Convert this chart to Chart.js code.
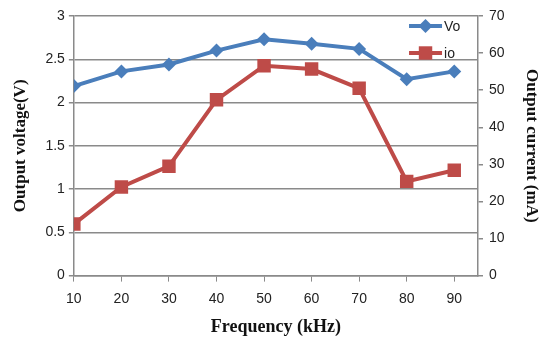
<!DOCTYPE html>
<html>
<head>
<meta charset="utf-8">
<script src="https://cdn.jsdelivr.net/npm/chart.js@4.4.0/dist/chart.umd.min.js"></script>
<style>
  html, body { margin: 0; padding: 0; background: #fff; }
  #wrap { width: 550px; height: 341px; }
</style>
</head>
<body>
<div id="wrap"><canvas id="myChart"></canvas></div>
<script>
// dữ liệu
var frequencies = [10, 20, 30, 40, 50, 60, 70, 80, 90];
var voltage = [2.19, 2.36, 2.44, 2.60, 2.73, 2.68, 2.62, 2.27, 2.36];
var current = [13.9, 23.9, 29.5, 47.4, 56.6, 55.7, 50.5, 25.4, 28.4];

var blue = '#4a7ebb';
var red = '#be4b48';

function toPoints(xs, ys) {
    var pts = [];
    for (var i = 0; i < xs.length; i++) {
        pts.push({ x: xs[i], y: ys[i] });
    }
    return pts;
}

// chú thích vẽ tay bên trong vùng biểu đồ
var legendInside = {
    id: 'legendInside',
    afterDraw: function (chart) {
        var ctx = chart.ctx;
        var a = chart.chartArea;
        var items = chart.data.datasets;
        ctx.save();
        for (var i = 0; i < items.length; i++) {
            var ds = items[i];
            var y = a.top + 10 + i * 27;
            var x0 = a.right - 69;
            var x1 = a.right - 36;
            ctx.strokeStyle = ds.borderColor;
            ctx.lineWidth = 4;
            ctx.beginPath();
            ctx.moveTo(x0, y);
            ctx.lineTo(x1, y);
            ctx.stroke();
            ctx.fillStyle = ds.backgroundColor;
            Chart.helpers.drawPoint(ctx, {
                pointStyle: ds.pointStyle,
                radius: ds.pointRadius,
                rotation: 0,
                borderWidth: 0
            }, (x0 + x1) / 2, y);
            ctx.fillStyle = '#222';
            ctx.font = '14px "Liberation Sans"';
            ctx.textBaseline = 'middle';
            ctx.fillText(ds.label, x1 + 2, y + 1);
        }
        ctx.restore();
    }
};

function plainTick(v) { return String(v); }

var ctx = document.getElementById('myChart').getContext('2d');
var chart = new Chart(ctx, {
    type: 'line',
    data: {
        datasets: [{
            label: 'Vo',
            data: toPoints(frequencies, voltage),
            yAxisID: 'y',
            borderColor: blue,
            backgroundColor: blue,
            borderWidth: 4,
            pointStyle: 'rectRot',
            pointRadius: 7,
            pointHoverRadius: 7,
            pointBorderWidth: 0,
            tension: 0
        }, {
            label: 'io',
            data: toPoints(frequencies, current),
            yAxisID: 'y1',
            borderColor: red,
            backgroundColor: red,
            borderWidth: 4,
            pointStyle: 'rect',
            pointRadius: 9.5,
            pointHoverRadius: 9.5,
            pointBorderWidth: 0,
            tension: 0
        }]
    },
    options: {
        responsive: true,
        maintainAspectRatio: false,
        animation: false,
        layout: { padding: { top: 16, left: 10, right: 0, bottom: 3 } },
        plugins: {
            legend: { display: false },
            tooltip: { enabled: false }
        },
        scales: {
            x: {
                type: 'linear',
                min: 10,
                max: 95,
                afterBuildTicks: function (axis) {
                    axis.ticks = frequencies.map(function (f) { return { value: f }; });
                },
                grid: { drawOnChartArea: false, drawTicks: true, tickLength: 6, color: '#8a8a8a' },
                border: { color: '#8a8a8a', width: 1.5 },
                ticks: { color: '#222', font: { family: 'Liberation Sans', size: 14 }, padding: 9, maxRotation: 0 },
                title: {
                    display: true,
                    text: 'Frequency (kHz)',
                    color: '#111',
                    font: { family: 'Liberation Serif', size: 18, weight: 'bold' },
                    padding: { top: 0, bottom: 0 }
                }
            },
            y: {
                position: 'left',
                min: 0,
                max: 3,
                ticks: { stepSize: 0.5, color: '#222', font: { family: 'Liberation Sans', size: 14 }, padding: 4, callback: plainTick },
                grid: { color: '#8a8a8a', lineWidth: 1.5, tickLength: 5 },
                border: { color: '#8a8a8a', width: 1.5 },
                title: {
                    display: true,
                    text: 'Output voltage(V)',
                    color: '#111',
                    font: { family: 'Liberation Serif', size: 17, weight: 'bold' },
                    padding: { top: 0, bottom: 11 }
                }
            },
            y1: {
                position: 'right',
                min: 0,
                max: 70,
                ticks: { stepSize: 10, color: '#222', font: { family: 'Liberation Sans', size: 14 }, padding: 6, callback: plainTick },
                grid: { drawOnChartArea: false, color: '#8a8a8a', lineWidth: 1.5, tickLength: 5 },
                border: { color: '#8a8a8a', width: 1.5 },
                title: {
                    display: true,
                    text: 'Output current (mA)',
                    color: '#111',
                    font: { family: 'Liberation Serif', size: 17, weight: 'bold' },
                    padding: { top: 8, bottom: 11 }
                }
            }
        }
    },
    plugins: [legendInside]
});
</script>
</body>
</html>
